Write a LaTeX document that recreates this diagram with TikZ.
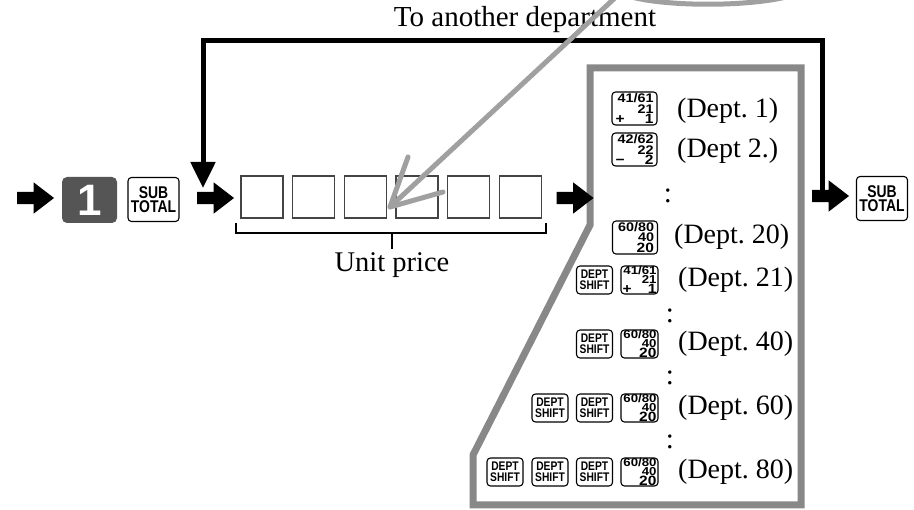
\documentclass[tikz,border=0pt]{standalone}
\usepackage{fontspec}
\setmainfont{Liberation Serif}
\newfontfamily\keyC{Liberation Sans}[FakeStretch=0.82]
\newfontfamily\keyW{Liberation Sans}[FakeStretch=1.15]
\newfontfamily\keyN{Liberation Sans}
\usetikzlibrary{shapes.arrows,arrows.meta}
\definecolor{boxgray}{RGB}{68,68,68}
\definecolor{framegray}{RGB}{136,136,136}
\definecolor{pointgray}{RGB}{160,160,160}
\definecolor{keydark}{RGB}{85,85,85}
\frenchspacing
\tikzset{
  blockarrow/.style={single arrow, fill=black, draw=none, inner sep=6pt,
    minimum height=37pt, minimum width=31pt, single arrow head extend=9.5pt,
    single arrow tip angle=75},
  keybox/.style={draw, line width=1.1pt, rounded corners=3.5pt, inner sep=0pt},
  subkey/.style={keybox, minimum width=51pt, minimum height=44pt, align=center,
    font={\keyC\bfseries\fontsize{17}{14.5}\selectfont}},
  onekey/.style={fill=keydark, draw=none, rounded corners=5pt, inner sep=0pt,
    minimum width=55pt, minimum height=46pt, text=white,
    font={\keyN\bfseries\fontsize{44}{44}\selectfont}},
  bigdept/.style={keybox, minimum width=45pt, minimum height=33pt, text width=38pt,
    align=right, font={\keyW\bfseries\fontsize{12.5}{10.3}\selectfont}},
  smalldept/.style={keybox, minimum width=37pt, minimum height=28pt, text width=34pt,
    align=right, font={\keyW\bfseries\fontsize{11.5}{8.8}\selectfont}},
  shiftkey/.style={keybox, minimum width=36pt, minimum height=28pt, align=center,
    font={\keyC\bfseries\fontsize{12.5}{10.8}\selectfont}},
  digitbox/.style={draw=boxgray, line width=1.3pt, minimum size=42pt, inner sep=0pt},
  deptlabel/.style={anchor=west, inner sep=0pt, font={\fontsize{28}{30}\selectfont}},
  bigtext/.style={inner sep=0pt, font={\fontsize{29}{31}\selectfont}},
  loopline/.style={line width=5pt, line join=miter, -{Triangle[length=26pt,width=24pt]}},
  frameline/.style={draw=framegray, line width=7pt, line join=miter},
  pointer/.style={draw=pointgray, line width=5pt, line cap=round, line join=round},
}
\newcommand{\lastbig}[1]{{\fontsize{13.5}{8}\selectfont #1}}
\begin{document}
\begin{tikzpicture}[x=1pt,y=-1pt]
\useasboundingbox (0,0) rectangle (914,510);
\clip (0,0) rectangle (914,510);

% gray callout frame
\draw[frameline] (590,68) -- (801,68) -- (801,505) -- (473,505) -- (473,455) -- (590,225) -- cycle;

% block arrows
\node[blockarrow] (arr1) at (31.5,198) {};
\node[blockarrow] (arr2) at (211.5,198) {};
\node[blockarrow] (arr3) at (571,198) {};
\node[blockarrow] (arr4) at (826.5,196) {};

% loop back
\coordinate (lt) at (203,41);
\coordinate (rt) at (822,41);
\coordinate (ldown) at (203,188);
\draw[loopline] (arr4.center -| rt) |- (lt) -- (ldown);
\node[bigtext] (title) at (525,19.5) {To another department};

% keys on the left
\node[onekey] (one) at (89.5,200) {1};
\node[subkey] (sub1) at (153.5,199.5) {SUB\\TOTAL};
\node[subkey] (sub2) at (882,198.5) {SUB\\TOTAL};

% unit price boxes
\foreach \i in {1,...,6} {
  \node[digitbox] (d\i) at ({262+51.7*(\i-1)},197) {};
}
\draw[line width=2pt] (236,223) |- (546,233) -- (546,223);
\draw[line width=2pt] (392,233) -- (392,249);
\node[bigtext, font={\fontsize{28.5}{31}\selectfont}] (unit) at (392,265) {Unit price};

% department keys
\node[bigdept] (k1) at (634.5,108.5) {41/61\\21\\\makebox[38pt]{\lastbig{+}\hfill\lastbig{1}}};
\node[deptlabel] (l1) at (677,111) {(Dept. 1)};
\node[bigdept] (k2) at (634.5,149.5) {42/62\\22\\\makebox[38pt]{\lastbig{−}\hfill\lastbig{2}}};
\node[deptlabel] (l2) at (677,151) {(Dept 2.)};
\node[bigtext] (c1) at (668,196) {:};
\node[bigdept] (k3) at (635,237.5) {60/80\\40\\\lastbig{20}};
\node[deptlabel] (l3) at (674,237) {(Dept. 20)};

\node[shiftkey] (s4a) at (594.5,280) {DEPT\\SHIFT};
\node[smalldept] (k4) at (639.5,280) {41/61\\21\\\makebox[34pt]{\lastbig{+}\hfill\lastbig{1}}};
\node[deptlabel] (l4) at (678,280) {(Dept. 21)};
\node[bigtext] (c2) at (670,316) {:};

\node[shiftkey] (s5a) at (594.5,344) {DEPT\\SHIFT};
\node[smalldept] (k5) at (639.5,344) {60/80\\40\\\lastbig{20}};
\node[deptlabel] (l5) at (678,344) {(Dept. 40)};
\node[bigtext] (c3) at (670,378) {:};

\node[shiftkey] (s6a) at (550,408) {DEPT\\SHIFT};
\node[shiftkey] (s6b) at (594.5,408) {DEPT\\SHIFT};
\node[smalldept] (k6) at (639.5,408) {60/80\\40\\\lastbig{20}};
\node[deptlabel] (l6) at (678,408) {(Dept. 60)};
\node[bigtext] (c4) at (670,442) {:};

\node[shiftkey] (s7a) at (505,472) {DEPT\\SHIFT};
\node[shiftkey] (s7b) at (550,472) {DEPT\\SHIFT};
\node[shiftkey] (s7c) at (594.5,472) {DEPT\\SHIFT};
\node[smalldept] (k7) at (639.5,472) {60/80\\40\\\lastbig{20}};
\node[deptlabel] (l7) at (678,472) {(Dept. 80)};

% gray pointer from magnifier
\coordinate (pstart) at (617,-4);
\coordinate (ptip) at (390,207);
\coordinate (pb1) at (408,157);
\coordinate (pb2) at (443,192);
\draw[pointer] (628,-4) .. controls (665,7) and (750,7) .. (790,-4);
\draw[pointer] (pstart) -- (ptip);
\draw[pointer] (pb1) -- (ptip) -- (pb2);
\end{tikzpicture}
\end{document}
